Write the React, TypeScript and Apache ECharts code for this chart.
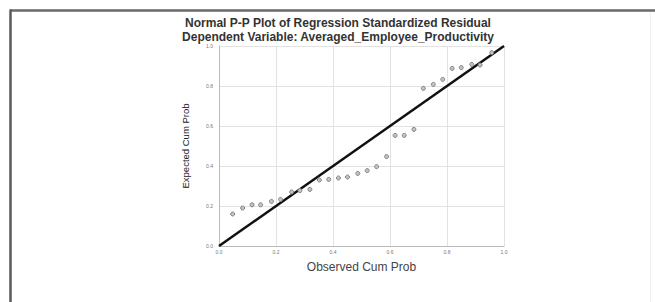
import React, { useEffect, useRef } from "react";
import * as echarts from "echarts";

const observedCumProb = [
  0.048, 0.083, 0.116, 0.146, 0.184, 0.216, 0.255, 0.284, 0.319, 0.352,
  0.385, 0.419, 0.451, 0.487, 0.52, 0.553, 0.588, 0.618, 0.65, 0.684,
  0.717, 0.752, 0.785, 0.818, 0.85, 0.887, 0.916, 0.957,
];
const expectedCumProb = [
  0.16, 0.19, 0.206, 0.206, 0.223, 0.233, 0.27, 0.277, 0.283, 0.33,
  0.333, 0.34, 0.345, 0.363, 0.377, 0.397, 0.447, 0.553, 0.553, 0.583,
  0.788, 0.808, 0.833, 0.888, 0.892, 0.908, 0.905, 0.967,
];
const referenceLine = [
  [0, 0],
  [1, 1],
];
const tickLabels = ["0.0", "0.2", "0.4", "0.6", "0.8", "1.0"];
const titleText = "Normal P-P Plot of Regression Standardized Residual";
const subtitleText = "Dependent Variable: Averaged_Employee_Productivity";
const xAxisTitle = "Observed Cum Prob";
const yAxisTitle = "Expected Cum Prob";

export default function App() {
  const ref = useRef<HTMLDivElement>(null);
  useEffect(() => {
    if (!ref.current) return;
    const chart = echarts.init(ref.current, null, { renderer: "svg" });
    const points = observedCumProb.map((x, i) => [x, expectedCumProb[i]]);
    const fmt = (v: number) => tickLabels[Math.round(v * 5)] ?? "";
    chart.setOption({
      animation: false,
      backgroundColor: "#ffffff",
      textStyle: { fontFamily: "Liberation Sans, Arial, sans-serif" },
      title: [
        {
          text: titleText,
          left: 338,
          top: 17,
          textAlign: "center",
          textStyle: { fontSize: 12, fontWeight: "bold", color: "#333" },
          padding: 0,
        },
        {
          text: subtitleText,
          left: 338,
          top: 31,
          textAlign: "center",
          textStyle: { fontSize: 12, fontWeight: "bold", color: "#333" },
          padding: 0,
        },
      ],
      graphic: [
        {
          type: "line",
          shape: { x1: 10, y1: 10.5, x2: 655, y2: 10.5 },
          style: { stroke: "#6a6a6a", lineWidth: 2.5 },
        },
        {
          type: "line",
          shape: { x1: 10.5, y1: 9.5, x2: 10.5, y2: 302 },
          style: { stroke: "#5a5a5a", lineWidth: 2.5 },
        },
        {
          type: "line",
          shape: { x1: 650.5, y1: 12, x2: 650.5, y2: 302 },
          style: { stroke: "#f0f0f0", lineWidth: 1 },
        },
      ],
      grid: { left: 219, top: 46, width: 285, height: 200 },
      xAxis: {
        type: "value",
        min: 0,
        max: 1,
        interval: 0.2,
        name: xAxisTitle,
        nameLocation: "middle",
        nameGap: 15,
        nameTextStyle: { fontSize: 12, color: "#444" },
        axisLine: { show: true, lineStyle: { color: "#bbb", width: 1 } },
        axisTick: { show: false },
        axisLabel: { fontSize: 5, color: "#777", margin: 3, formatter: fmt },
        splitLine: { show: true, lineStyle: { color: "#e2e2e2", width: 1 } },
      },
      yAxis: {
        type: "value",
        min: 0,
        max: 1,
        interval: 0.2,
        name: yAxisTitle,
        nameLocation: "middle",
        nameGap: 29,
        nameTextStyle: { fontSize: 9.5, color: "#222" },
        axisLine: { show: true, lineStyle: { color: "#bbb", width: 1 } },
        axisTick: { show: false },
        axisLabel: { fontSize: 5, color: "#777", margin: 6, formatter: fmt },
        splitLine: { show: true, lineStyle: { color: "#e2e2e2", width: 1 } },
      },
      series: [
        {
          type: "line",
          data: referenceLine,
          symbol: "none",
          lineStyle: { color: "#111", width: 2.5 },
          z: 3,
        },
        {
          type: "scatter",
          data: points,
          symbol: "circle",
          symbolSize: 4,
          itemStyle: { color: "#c4c4c4", borderColor: "#808080", borderWidth: 1, opacity: 1 },
          z: 4,
        },
      ],
    });
    return () => chart.dispose();
  }, []);
  return (
    <div
      ref={ref}
      style={{ position: "fixed", left: 0, top: 0, width: 655, height: 302, background: "#fff" }}
    />
  );
}
